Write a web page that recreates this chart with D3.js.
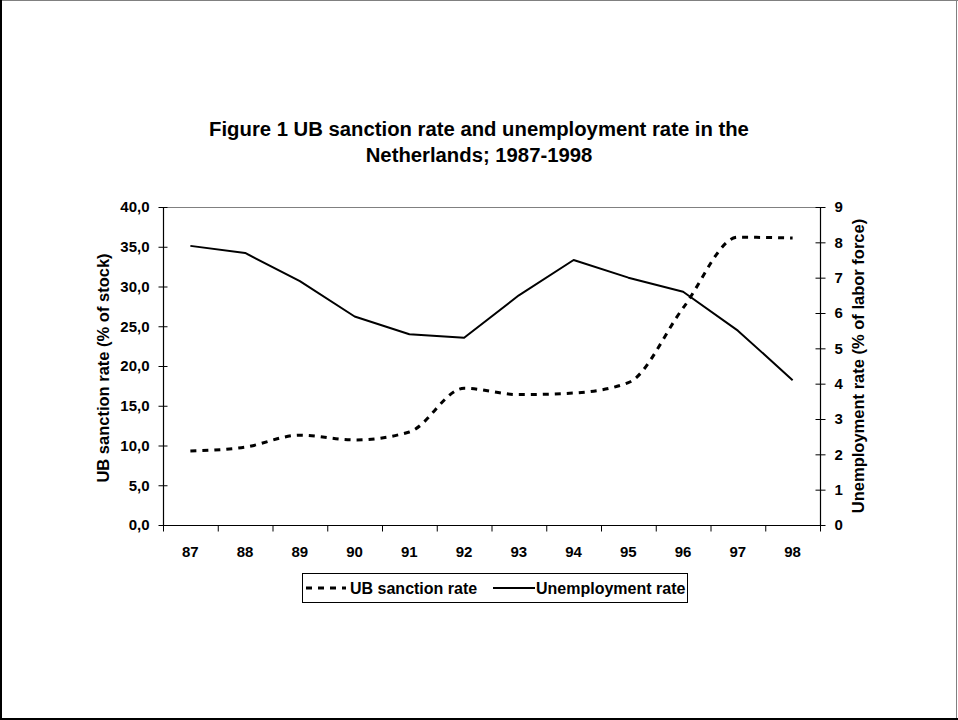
<!DOCTYPE html>
<html>
<head>
<meta charset="utf-8">
<script src="https://cdn.jsdelivr.net/npm/d3@7"></script>
<style>
  html, body { margin: 0; padding: 0; background: #fff; }
  svg { display: block; font-family: Arial, "Liberation Sans", sans-serif; }
</style>
</head>
<body>
<svg id="chart" width="958" height="720"></svg>
<script>
// Years shown on the category axis
const years = ["87", "88", "89", "90", "91", "92", "93", "94", "95", "96", "97", "98"];
// UB sanction rate, % of stock (left axis)
const sanctionRate = [9.3, 9.8, 11.3, 10.7, 11.7, 17.2, 16.4, 16.6, 17.9, 27.3, 36.2, 36.1];
// Unemployment rate, % of labor force (right axis)
const unemploymentRate = [7.9, 7.7, 6.9, 5.9, 5.4, 5.3, 6.5, 7.5, 7.0, 6.6, 5.5, 4.1];
// Tick values for both value axes
const leftTicks = [0, 5, 10, 15, 20, 25, 30, 35, 40];
const rightTicks = [0, 1, 2, 3, 4, 5, 6, 7, 8, 9];

const titleLines = ["Figure 1 UB sanction rate and unemployment rate in the", "Netherlands; 1987-1998"];

const svg = d3.select("#chart");
const W = 958, H = 720;
const plot = { left: 163, right: 820, top: 207, bottom: 525 };

// Outer frame
svg.append("line").attr("x1", 0.5).attr("x2", W).attr("y1", 0.5).attr("y2", 0.5).attr("stroke", "#808080").attr("stroke-width", 1);
svg.append("line").attr("x1", W - 1.5).attr("x2", W - 1.5).attr("y1", 0).attr("y2", H).attr("stroke", "#808080").attr("stroke-width", 1);
svg.append("line").attr("x1", 1).attr("x2", 1).attr("y1", 0).attr("y2", H).attr("stroke", "#000").attr("stroke-width", 2);
svg.append("line").attr("x1", 0).attr("x2", W).attr("y1", H - 1).attr("y2", H - 1).attr("stroke", "#000").attr("stroke-width", 2);

// Title
svg.append("text")
  .attr("x", 479).attr("y", 136)
  .attr("text-anchor", "middle")
  .attr("font-size", 20.3).attr("font-weight", "bold")
  .selectAll("tspan").data(titleLines).join("tspan")
  .attr("x", 479).attr("dy", (d, i) => i === 0 ? 0 : 26)
  .text(d => d);

// Scales
const x = d3.scaleBand().domain(years).range([plot.left, plot.right]).paddingInner(0).paddingOuter(0);
const yL = d3.scaleLinear().domain([0, 40]).range([plot.bottom, plot.top]);
const yR = d3.scaleLinear().domain([0, 9]).range([plot.bottom, plot.top]);
const cx = d => x(d) + x.bandwidth() / 2;

// Plot area top border
svg.append("line")
  .attr("x1", plot.left).attr("x2", plot.right)
  .attr("y1", plot.top + 0.5).attr("y2", plot.top + 0.5)
  .attr("stroke", "#808080").attr("stroke-width", 1);

// Left axis
const gL = svg.append("g").attr("transform", `translate(${plot.left + 0.5},0)`)
  .call(d3.axisLeft(yL).tickValues(leftTicks).tickSize(6).tickPadding(8)
    .tickFormat(d => d3.format(".1f")(d).replace(".", ",")));
// Right axis
const gR = svg.append("g").attr("transform", `translate(${plot.right + 0.5},0)`)
  .call(d3.axisRight(yR).tickValues(rightTicks).tickSize(6).tickPadding(8));
// Category axis with ticks between categories
const gX = svg.append("g").attr("transform", `translate(0,${plot.bottom + 0.5})`)
  .call(d3.axisBottom(x).tickSize(0).tickPadding(21));

[gL, gR, gX].forEach(g => {
  g.select(".domain").attr("stroke", "#000").attr("stroke-width", 1.2);
  g.selectAll(".tick line").attr("stroke", "#000");
  g.selectAll("text").attr("font-size", 15).attr("font-weight", "bold")
    .attr("font-family", "Arial, 'Liberation Sans', sans-serif").attr("fill", "#000");
});
// Centre the cross ticks on the value axes
gL.selectAll(".tick line").attr("x1", 4).attr("x2", -5);
gR.selectAll(".tick line").attr("x1", -5).attr("x2", 5);
gL.select(".domain").attr("d", `M0,${plot.top}V${plot.bottom}`);
gR.select(".domain").attr("d", `M0,${plot.top}V${plot.bottom}`);
gX.select(".domain").attr("d", `M${plot.left},0H${plot.right}`);

// Tick marks at category boundaries
const bounds = d3.range(years.length + 1).map(i => plot.left + i * x.bandwidth());
gX.selectAll(".boundary").data(bounds).join("line")
  .attr("class", "boundary")
  .attr("x1", d => d + 0.5).attr("x2", d => d + 0.5)
  .attr("y1", 0).attr("y2", 6)
  .attr("stroke", "#000");

// Axis titles
svg.append("text")
  .attr("transform", `translate(109,${(plot.top + plot.bottom) / 2 + 2}) rotate(-90)`)
  .attr("text-anchor", "middle")
  .attr("font-size", 16.5).attr("font-weight", "bold")
  .text("UB sanction rate (% of stock)");
svg.append("text")
  .attr("transform", `translate(864,${(plot.top + plot.bottom) / 2}) rotate(-90)`)
  .attr("text-anchor", "middle")
  .attr("font-size", 16.5).attr("font-weight", "bold")
  .text("Unemployment rate (% of labor force)");

// Series lines
const lineL = d3.line().x((d, i) => cx(years[i])).y(d => yL(d)).curve(d3.curveMonotoneX);
const lineR = d3.line().x((d, i) => cx(years[i])).y(d => yR(d));

svg.append("path").datum(unemploymentRate)
  .attr("d", lineR).attr("fill", "none")
  .attr("stroke", "#000").attr("stroke-width", 2).attr("stroke-linejoin", "round");

svg.append("path").datum(sanctionRate)
  .attr("d", lineL).attr("fill", "none")
  .attr("stroke", "#000").attr("stroke-width", 3).attr("stroke-dasharray", "6,6");

// Legend
const lg = svg.append("g").attr("transform", "translate(302,573)");
lg.append("rect").attr("x", 0.5).attr("y", 0.5).attr("width", 385).attr("height", 29)
  .attr("fill", "#fff").attr("stroke", "#000").attr("stroke-width", 1);
lg.append("line").attr("x1", 4).attr("x2", 44).attr("y1", 15).attr("y2", 15)
  .attr("stroke", "#000").attr("stroke-width", 3).attr("stroke-dasharray", "6,6");
lg.append("text").attr("x", 48).attr("y", 21).attr("font-size", 16).attr("font-weight", "bold").text("UB sanction rate");
lg.append("line").attr("x1", 191).attr("x2", 233).attr("y1", 15).attr("y2", 15)
  .attr("stroke", "#000").attr("stroke-width", 2);
lg.append("text").attr("x", 234).attr("y", 21).attr("font-size", 16).attr("font-weight", "bold").text("Unemployment rate");
</script>
</body>
</html>
